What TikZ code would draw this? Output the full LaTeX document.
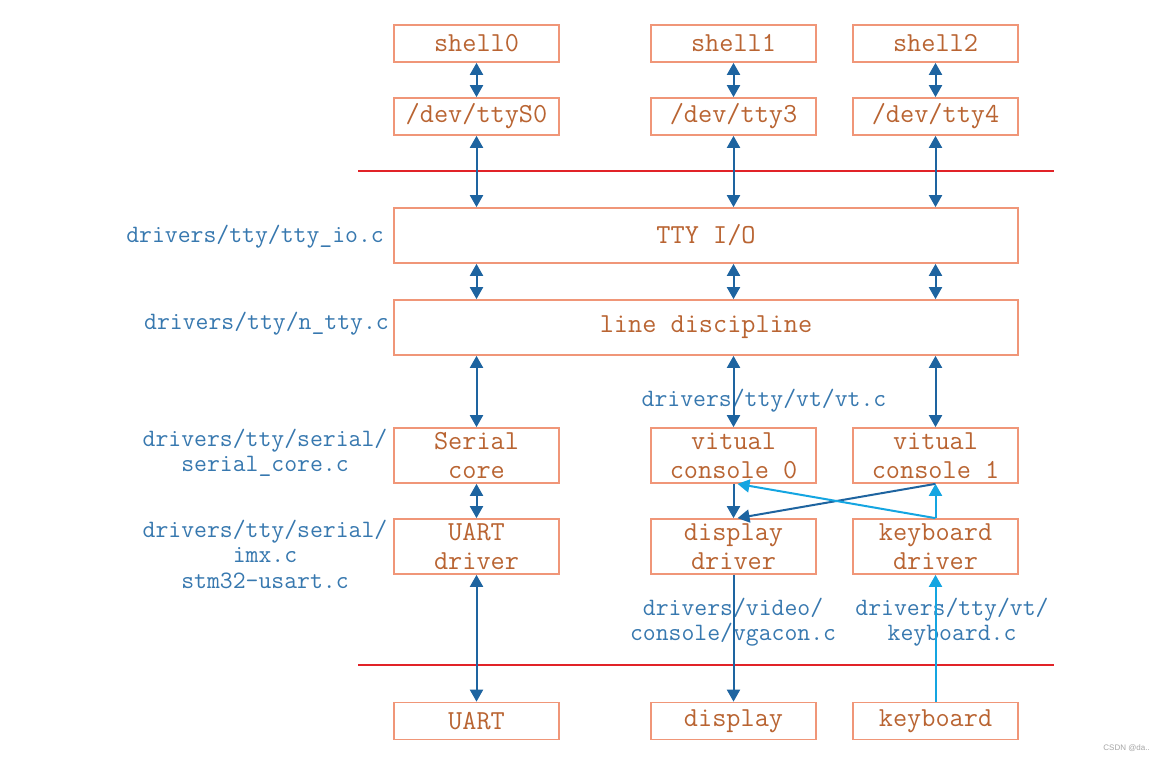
\documentclass[tikz,border=0pt]{standalone}
\usepackage{fontspec}
\setsansfont{Liberation Sans}
\usetikzlibrary{arrows.meta}
\definecolor{boxc}{RGB}{240,150,120}
\definecolor{txtc}{RGB}{185,100,50}
\definecolor{lblc}{RGB}{55,120,175}
\definecolor{arrc}{RGB}{30,100,160}
\definecolor{lightc}{RGB}{20,165,225}
\definecolor{redc}{RGB}{225,35,40}
\tikzset{
  box/.style={draw=boxc, line width=1.7pt, text=txtc, font=\ttfamily\fontsize{27.5}{29}\selectfont,
    align=center, inner sep=0pt, minimum width=165pt},
  sbox/.style={box, minimum height=37pt},
  tbox/.style={box, minimum height=55pt},
  wbox/.style={box, minimum height=55pt, minimum width=624pt},
  lbl/.style={text=lblc, font=\ttfamily\fontsize{25}{25.5}\selectfont, align=center, inner sep=0pt},
  dbl/.style={draw=arrc, line width=2pt, {Triangle[length=12pt,width=13pt]}-{Triangle[length=12pt,width=13pt]}},
  one/.style={draw=arrc, line width=2pt, -{Triangle[length=12pt,width=13pt]}},
  lone/.style={draw=lightc, line width=2pt, -{Triangle[length=12pt,width=13pt]}},
  redline/.style={draw=redc, line width=1.8pt}
}
\begin{document}
\begin{tikzpicture}[x=1pt,y=1pt]
\useasboundingbox[fill=white] (0,-763) rectangle (1164,0);
\begin{scope}[y=-1pt]
% top row
\node[sbox] (sh0) at (476.5,43.5) {shell0};
\node[sbox] (sh1) at (733.5,43.5) {shell1};
\node[sbox] (sh2) at (935.5,43.5) {shell2};
\node[sbox] (d0) at (476.5,116.5) {/dev/ttyS0};
\node[sbox] (d3) at (733.5,116.5) {/dev/tty3};
\node[sbox] (d4) at (935.5,116.5) {/dev/tty4};
% red lines
\coordinate (r1a) at (358,171); \coordinate (r1b) at (1054,171);
\coordinate (r2a) at (358,665); \coordinate (r2b) at (1054,665);
\draw[redline] (r1a) -- (r1b);
\draw[redline] (r2a) -- (r2b);
% wide boxes
\node[wbox] (tty) at (706,235.5) {TTY I/O};
\node[wbox] (ld) at (706,327.5) {line discipline};
% middle row
\node[tbox] (sc) at (476.5,455.5) {Serial\\core};
\node[tbox] (vc0) at (733.5,455.5) {vitual\\console 0};
\node[tbox] (vc1) at (935.5,455.5) {vitual\\console 1};
\node[tbox] (ud) at (476.5,546.5) {UART\\driver};
\node[tbox] (dd) at (733.5,546.5) {display\\driver};
\node[tbox] (kd) at (935.5,546.5) {keyboard\\driver};
% bottom row
\node[sbox] (uart) at (476.5,721) {UART};
\node[sbox] (disp) at (733.5,721) {display};
\node[sbox] (kb) at (935.5,721) {keyboard};
% labels
\node[lbl, anchor=east] (l1) at (384,237) {drivers/tty/tty\_io.c};
\node[lbl, anchor=east] (l2) at (389,324) {drivers/tty/n\_tty.c};
\node[lbl] (l3) at (764,401) {drivers/tty/vt/vt.c};
\node[lbl] (l4) at (265,453) {drivers/tty/serial/\\serial\_core.c};
\node[lbl] (l5) at (265,554) {drivers/tty/serial/\\imx.c\\stm32-usart.c};
\node[lbl] (l6) at (733,622) {drivers/video/\\console/vgacon.c};
\node[lbl] (l7) at (952,622) {drivers/tty/vt/\\keyboard.c};
\node[text=gray!70, font=\sffamily\fontsize{8}{9}\selectfont, anchor=east, inner sep=0pt] (wm) at (1150,748) {CSDN @da..};
% arrows
\draw[dbl] (sh0) -- (d0);
\draw[dbl] (sh1) -- (d3);
\draw[dbl] (sh2) -- (d4);
\draw[dbl] (d0.south) -- (d0.south |- tty.north);
\draw[dbl] (d3.south) -- (d3.south |- tty.north);
\draw[dbl] (d4.south) -- (d4.south |- tty.north);
\draw[dbl] (tty.south -| sc.north) -- (ld.north -| sc.north);
\draw[dbl] (tty.south -| vc0.north) -- (ld.north -| vc0.north);
\draw[dbl] (tty.south -| vc1.north) -- (ld.north -| vc1.north);
\draw[dbl] (ld.south -| sc.north) -- (sc.north);
\draw[dbl] (ld.south -| vc0.north) -- (vc0.north);
\draw[dbl] (ld.south -| vc1.north) -- (vc1.north);
\draw[dbl] (sc) -- (ud);
\draw[dbl] (ud) -- (uart);
\draw[one] (vc0.south) -- (dd.north);
\draw[one] (vc1.south) -- ([xshift=4pt]dd.north);
\draw[lone] (kd.north) -- (vc1.south);
\draw[lone] (kd.north) -- ([xshift=4pt]vc0.south);
\draw[one] (dd) -- (disp);
\draw[lone] (kb) -- (kd);
\end{scope}
\end{tikzpicture}
\end{document}
